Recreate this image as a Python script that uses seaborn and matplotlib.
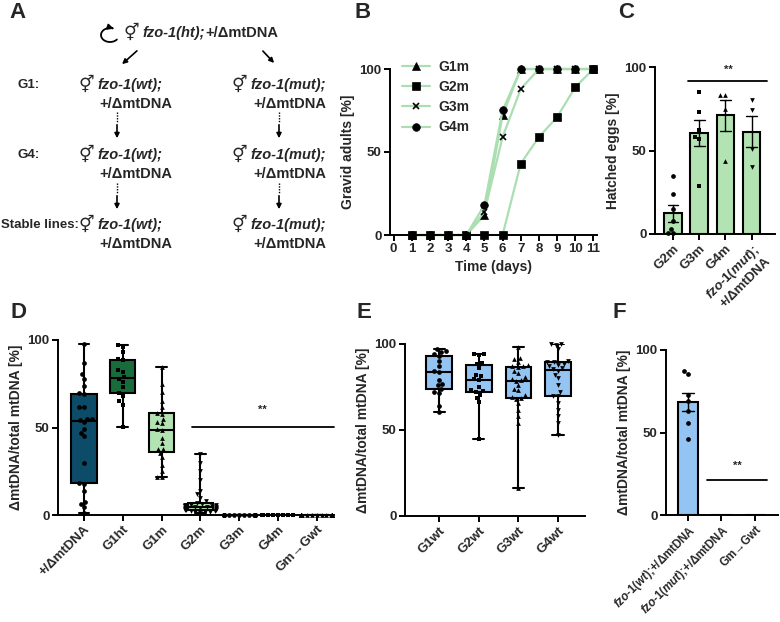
import warnings
warnings.filterwarnings('ignore')
import numpy as np
import pandas as pd
import matplotlib
matplotlib.use('Agg')
import matplotlib.pyplot as plt
from matplotlib.patches import FancyArrowPatch
from matplotlib.lines import Line2D
from matplotlib.path import Path
import seaborn as sns

# ---------------- data ----------------
# Panel B: gravid adults (%) per day
days = [1, 2, 3, 4, 5, 6, 7, 8, 9, 10, 11]
b_series = ['G1m', 'G2m', 'G3m', 'G4m']
g1m_gravid = [0, 0, 0, 0, 12, 72, 100, 100, 100, 100, 100]
g2m_gravid = [0, 0, 0, 0, 0, 0, 43, 59, 71, 89, 100]
g3m_gravid = [0, 0, 0, 0, 14, 59, 88, 100, 100, 100, 100]
g4m_gravid = [0, 0, 0, 0, 18, 75, 100, 100, 100, 100, 100]

# Panel C: hatched eggs (%)
c_groups = ['G2m', 'G3m', 'G4m', 'fzo-1(mut);+/ΔmtDNA']
hatch_g2m = [35, 24, 15, 8, 3, 0.5, 0.5]
hatch_g3m = [85, 73, 62, 58, 57, 29]
hatch_g4m = [83, 83, 75, 44]
hatch_fzo_mut = [80, 74, 51, 40]

# Panel D: ΔmtDNA/total mtDNA (%)
d_groups = ['+/ΔmtDNA', 'G1ht', 'G1m', 'G2m', 'G3m', 'G4m', 'Gm→Gwt']
d_het = [97.5, 87, 80.5, 78, 74, 70, 69, 62, 61.5, 55, 55, 54.5, 53, 49, 47, 45,
         29.5, 18.5, 17.5, 14, 7.5, 6.5, 4.5, 1.3]
d_g1ht = [97, 96, 93, 89, 88.5, 83, 82, 79, 78, 76, 73, 70, 68, 65, 63, 50.5]
d_g1m = [84.5, 75, 70.5, 65, 61.5, 58.5, 57.5, 55, 53, 52.5, 48.5, 49, 44, 41, 38,
         37.5, 35.5, 33, 28.5, 25, 22, 21.5]
d_g2m = [35, 30, 25, 20, 14, 12, 10, 8, 7, 6.5, 6, 6, 5.5, 5.5, 5, 5, 5, 4.5, 4.5,
         4.5, 4, 4, 4, 3.5, 3.5, 3, 3, 3, 2.5, 2.5, 2, 2, 1.5, 1]
d_g3m = [0, 0, 0, 0, 0, 0, 0, 0, 0, 0, 0, 0, 0, 0, 0, 0, 0, 0, 0, 0]
d_g4m = [0, 0, 0, 0, 0, 0, 0, 0, 0, 0, 0, 0, 0, 0, 0, 0, 0, 0, 0, 0, 0, 0]
d_gm_gwt = [0, 0, 0, 0, 0, 0, 0, 0, 0, 0, 0, 0, 0, 0, 0, 0, 0, 0, 0, 0, 0, 0]

# Panel E
e_groups = ['G1wt', 'G2wt', 'G3wt', 'G4wt']
e_g1wt = [97, 96, 95.5, 94, 93, 90, 87, 84.5, 84, 79, 77, 76, 74, 72, 71.5, 64, 60.5]
e_g2wt = [94, 94, 93.5, 89, 88.5, 86, 82, 81.5, 79.5, 79, 75, 73, 72.5, 72, 70.5,
          68.5, 66, 44.5]
e_g3wt = [98.5, 92, 91, 89.5, 88, 87, 86.5, 87, 84.5, 83, 81, 79.5, 79, 78.5, 76, 74,
          73, 70.5, 69, 68.5, 68, 65.5, 61.5, 58, 54, 16]
e_g4wt = [100, 100, 99.5, 97, 90, 89.5, 89.5, 88.5, 88, 87, 86, 85.5, 84.5, 82, 80,
          76, 72, 70, 69.5, 65.5, 61.5, 58, 54, 47]

# Panel F
f_groups = ['fzo-1(wt);+/ΔmtDNA', 'fzo-1(mut);+/ΔmtDNA', 'Gm→Gwt']
f_wt = [87, 85.5, 73, 69, 63, 55.5, 46]
f_mut = [0, 0, 0, 0, 0]
f_gm_gwt = [0, 0, 0, 0, 0]

# ---------------- style ----------------
sns.set_style('ticks')
plt.rcParams['font.family'] = ['Liberation Sans', 'DejaVu Sans']
plt.rcParams['font.weight'] = 'bold'
plt.rcParams['axes.labelweight'] = 'bold'
plt.rcParams['mathtext.fontset'] = 'custom'
plt.rcParams['mathtext.it'] = 'Liberation Sans:italic:bold'
plt.rcParams['mathtext.rm'] = 'Liberation Sans:bold'
plt.rcParams['mathtext.bf'] = 'Liberation Sans:bold'
plt.rcParams['mathtext.default'] = 'it'

W, H = 780, 622
FS = 10          # axis labels
TFS = 9.5        # tick labels
AFS = 10.5       # scheme text
RFS = 9.5        # scheme row labels
LFS = 16         # panel letters
LIGHT_GREEN = '#b3e3b3'
LINE_GREEN = '#abdfb2'
LIGHT_BLUE = '#94c4f2'
DARK_TEAL = '#0d4c68'
DARK_GREEN = '#186b3b'

fig = plt.figure(figsize=(W / 100, H / 100), dpi=100)
renderer = fig.canvas.get_renderer()


def P(x, y):
    return (x / W, 1 - y / H)


def add_ax(x0, y0, x1, y1):
    return fig.add_axes([x0 / W, 1 - y1 / H, (x1 - x0) / W, (y1 - y0) / H])


def style_ax(ax):
    sns.despine(ax=ax)
    for sp in ['left', 'bottom']:
        ax.spines[sp].set_linewidth(1.4)
        ax.spines[sp].set_color('black')
    ax.tick_params(width=1.4, length=4, labelsize=TFS, direction='out', pad=2,
                   color='black')
    ax.set_ylim(0, 100)
    ax.set_yticks([0, 50, 100])
    ax.set_yticklabels(['0', '50', '100'], fontweight='bold')


# ---------------- Panel A (scheme) ----------------
fig.text(*P(9, 12), 'A', fontsize=LFS, fontweight='bold', va='center', ha='left')


def herm(x, y):
    fig.text(*P(x, y), '⚥', fontsize=12.5, fontweight='bold', va='center', ha='left',
             family=['DejaVu Sans'])


def geno(x, y, s, italic=False, size=AFS):
    return fig.text(*P(x, y), s, fontsize=size, fontweight='bold', va='center',
                    ha='left', fontstyle='italic' if italic else 'normal')


# self-fertilisation arrow (open circle arrow)
cx, cy, rx, ry = 110, 35, 9, 7
ang = np.deg2rad(np.linspace(-40, -295, 40))
arc_px = np.column_stack([cx + rx * np.cos(ang), cy - ry * np.sin(ang)])
arc_fig = np.column_stack([arc_px[:, 0] / W, 1 - arc_px[:, 1] / H])
fig.add_artist(FancyArrowPatch(path=Path(arc_fig), transform=fig.transFigure,
                               arrowstyle='-|>', mutation_scale=8, lw=1.3,
                               color='black'))
herm(124, 33)
t1 = geno(142, 33, 'fzo-1(ht);', italic=True)
bb = t1.get_window_extent(renderer)
fig.text(bb.x1 / W + 0.5 / W, 1 - 33 / H, '+/ΔmtDNA', fontsize=AFS,
         fontweight='bold', va='center', ha='left')
fig.add_artist(FancyArrowPatch(P(139, 49), P(120, 66), transform=fig.transFigure,
                               arrowstyle='-|>', mutation_scale=7, lw=1.2, color='black'))
fig.add_artist(FancyArrowPatch(P(261, 49), P(276, 65), transform=fig.transFigure,
                               arrowstyle='-|>', mutation_scale=7, lw=1.2, color='black'))

rows = [('G1:', 85, 104), ('G4:', 155, 174), ('Stable lines:', 225, 244)]
for lab, yg, yd in rows:
    geno(1 if lab == 'Stable lines:' else 17, yg, lab, size=RFS)
    herm(79, yg)
    geno(97, yg, 'fzo-1(wt);', italic=True)
    geno(99, yd, '+/ΔmtDNA')
    herm(232, yg)
    geno(250, yg, 'fzo-1(mut);', italic=True)
    geno(253, yd, '+/ΔmtDNA')

for xa in (117, 279):
    for (ys, ym, ye) in ((112, 122, 141), (183, 193, 212)):
        fig.add_artist(Line2D([xa / W, xa / W], [1 - ys / H, 1 - ym / H],
                              transform=fig.transFigure, ls=(0, (1, 1)), lw=1.0,
                              color='black'))
        fig.add_artist(FancyArrowPatch(P(xa, ym), P(xa, ye), transform=fig.transFigure,
                                       arrowstyle='-|>', mutation_scale=7, lw=1.2,
                                       color='black'))

# ---------------- Panel B ----------------
fig.text(*P(354, 12), 'B', fontsize=LFS, fontweight='bold', va='center', ha='left')
axB = add_ax(390, 69, 597, 235)
b_values = [g1m_gravid, g2m_gravid, g3m_gravid, g4m_gravid]
b_markers = ['^', 's', 'x', 'o']
for name, vals, mk in zip(b_series, b_values, b_markers):
    sns.lineplot(x=days, y=vals, ax=axB, color=LINE_GREEN, lw=1.6, marker=mk,
                 markersize=5.5 if mk != 'x' else 5, markerfacecolor='black',
                 markeredgecolor='black', markeredgewidth=1.2 if mk == 'x' else 0.5,
                 label=name, clip_on=False, legend=False)
style_ax(axB)
axB.set_xlim(-0.2, 11.2)
axB.set_xticks(range(12))
axB.set_xticklabels([str(i) for i in range(12)], fontweight='bold')
axB.set_xlabel('Time (days)', fontsize=FS, fontweight='bold', labelpad=3)
axB.set_ylabel('Gravid adults [%]', fontsize=FS, fontweight='bold', labelpad=3)
axB.legend(handles=axB.get_lines()[:4], labels=b_series, frameon=False,
           loc='upper left', bbox_to_anchor=(0.03, 1.09),
           prop={'weight': 'bold', 'size': FS}, handlelength=2.0,
           handletextpad=0.6, labelspacing=0.45, borderaxespad=0)

# ---------------- Panel C ----------------
fig.text(*P(618, 12), 'C', fontsize=LFS, fontweight='bold', va='center', ha='left')
axC = add_ax(655, 67, 775, 234)
c_vals = [hatch_g2m, hatch_g3m, hatch_g4m, hatch_fzo_mut]
dfC = pd.DataFrame({'grp': np.repeat(c_groups, [len(v) for v in c_vals]),
                    'val': np.concatenate(c_vals)})
sns.barplot(data=dfC, x='grp', y='val', order=c_groups, color=LIGHT_GREEN,
            saturation=1, edgecolor='black', linewidth=1.5, errorbar='se',
            capsize=0.4, err_kws={'color': 'black', 'linewidth': 1.0}, width=0.68,
            ax=axC)
c_markers = ['o', 's', '^', 'v']
for g, vals, mk in zip(c_groups, c_vals, c_markers):
    sns.swarmplot(x=[g] * len(vals), y=vals, order=c_groups, color='black', marker=mk,
                  size=3.4, ax=axC, clip_on=False)
style_ax(axC)
axC.set_xlim(-0.7, 3.9)
axC.set_xticks(range(4))
axC.set_xticklabels(['G2m', 'G3m', 'G4m',
                     r'$\mathit{fzo}$-$\mathit{1(mut)}$;' + '\n+/ΔmtDNA'],
                    rotation=45, ha='right', rotation_mode='anchor', fontsize=TFS,
                    fontweight='bold')
axC.set_xlabel('')
axC.set_ylabel('Hatched eggs [%]', fontsize=FS, fontweight='bold', labelpad=3)
axC.plot([0.55, 3.6], [91.5, 91.5], color='black', lw=1.3, clip_on=False)
axC.text(2.1, 98, '**', ha='center', va='center', fontsize=8, fontweight='bold')

# ---------------- Panel D ----------------
fig.text(*P(11, 312), 'D', fontsize=LFS, fontweight='bold', va='center', ha='left')
axD = add_ax(58, 340, 334, 515)
d_vals = [d_het, d_g1ht, d_g1m, d_g2m, d_g3m, d_g4m, d_gm_gwt]
dfD = pd.DataFrame({'grp': np.repeat(d_groups, [len(v) for v in d_vals]),
                    'val': np.concatenate(d_vals)})
d_pal = {'+/ΔmtDNA': DARK_TEAL, 'G1ht': DARK_GREEN, 'G1m': LIGHT_GREEN,
         'G2m': LIGHT_GREEN, 'G3m': LIGHT_GREEN, 'G4m': LIGHT_GREEN,
         'Gm→Gwt': LIGHT_BLUE}
sns.boxplot(data=dfD, x='grp', y='val', hue='grp', order=d_groups, hue_order=d_groups,
            palette=d_pal, whis=(0, 100), width=0.65, linewidth=1.5,
            linecolor='black', showfliers=False, saturation=1, legend=False,
            dodge=False, capwidths=0.28, ax=axD)
d_markers = ['o', 's', '^', 'v', 'o', 's', '^']
for g, vals, mk in zip(d_groups, d_vals, d_markers):
    sns.swarmplot(x=[g] * len(vals), y=vals, order=d_groups, color='black', marker=mk,
                  size=3.4, ax=axD, clip_on=False)
style_ax(axD)
axD.set_xlim(-0.67, 6.45)
axD.set_xticks(range(7))
axD.set_xticklabels(d_groups, rotation=45, ha='right', rotation_mode='anchor',
                    fontsize=TFS, fontweight='bold')
axD.set_xlabel('')
axD.set_ylabel('ΔmtDNA/total mtDNA [%]', fontsize=FS, fontweight='bold', labelpad=3)
axD.plot([2.78, 6.45], [50.3, 50.3], color='black', lw=1.3, clip_on=False)
axD.text(4.6, 60, '**', ha='center', va='center', fontsize=8, fontweight='bold')

# ---------------- Panel E ----------------
fig.text(*P(357, 312), 'E', fontsize=LFS, fontweight='bold', va='center', ha='left')
axE = add_ax(405, 344, 585, 516)
e_vals = [e_g1wt, e_g2wt, e_g3wt, e_g4wt]
dfE = pd.DataFrame({'grp': np.repeat(e_groups, [len(v) for v in e_vals]),
                    'val': np.concatenate(e_vals)})
sns.boxplot(data=dfE, x='grp', y='val', order=e_groups, color=LIGHT_BLUE,
            whis=(0, 100), width=0.65, linewidth=1.5, linecolor='black',
            showfliers=False, saturation=1, capwidths=0.28, ax=axE)
e_markers = ['o', 's', '^', 'v']
for g, vals, mk in zip(e_groups, e_vals, e_markers):
    sns.swarmplot(x=[g] * len(vals), y=vals, order=e_groups, color='black', marker=mk,
                  size=3.4, ax=axE, clip_on=False)
style_ax(axE)
axE.set_xlim(-0.86, 3.68)
axE.set_xticks(range(4))
axE.set_xticklabels(e_groups, rotation=45, ha='right', rotation_mode='anchor',
                    fontsize=TFS, fontweight='bold')
axE.set_xlabel('')
axE.set_ylabel('ΔmtDNA/total mtDNA [%]', fontsize=FS, fontweight='bold', labelpad=3)

# ---------------- Panel F ----------------
fig.text(*P(613, 312), 'F', fontsize=LFS, fontweight='bold', va='center', ha='left')
axF = add_ax(666, 350, 778, 515)
f_vals = [f_wt, f_mut, f_gm_gwt]
dfF = pd.DataFrame({'grp': np.repeat(f_groups, [len(v) for v in f_vals]),
                    'val': np.concatenate(f_vals)})
sns.barplot(data=dfF, x='grp', y='val', order=f_groups, color=LIGHT_BLUE,
            saturation=1, edgecolor='black', linewidth=1.5, errorbar='se',
            capsize=0.35, err_kws={'color': 'black', 'linewidth': 1.0}, width=0.6,
            ax=axF)
sns.swarmplot(x=[f_groups[0]] * len(f_wt), y=f_wt, order=f_groups, color='black',
              marker='o', size=3.4, ax=axF)
style_ax(axF)
axF.set_xlim(-0.66, 2.69)
axF.set_xticks(range(3))
axF.set_xticklabels([r'$\mathit{fzo}$-$\mathit{1(wt)}$;+/ΔmtDNA',
                     r'$\mathit{fzo}$-$\mathit{1(mut)}$;+/ΔmtDNA', 'Gm→Gwt'],
                    rotation=45, ha='right', rotation_mode='anchor', fontsize=8.3,
                    fontweight='bold')
axF.set_xlabel('')
axF.set_ylabel('ΔmtDNA/total mtDNA [%]', fontsize=FS, fontweight='bold', labelpad=3)
axF.plot([0.57, 2.36], [21, 21], color='black', lw=1.3, clip_on=False)
axF.text(1.47, 30, '**', ha='center', va='center', fontsize=8, fontweight='bold')

fig.savefig('out.png', dpi=100)
